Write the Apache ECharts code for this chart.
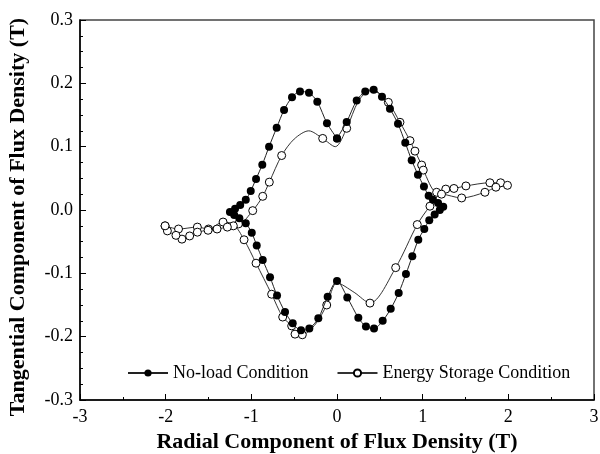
<!DOCTYPE html>
<html><head><meta charset="utf-8">
<script src="https://cdn.jsdelivr.net/npm/echarts@6/dist/echarts.min.js"></script>
<style>html,body{margin:0;padding:0;background:#fff}#c{width:600px;height:454px}</style>
</head><body><div id="c"></div>
<script>
var xTicks = [-3, -2, -1, 0, 1, 2, 3];
var yTicks = [-0.3, -0.2, -0.1, 0.0, 0.1, 0.2, 0.3];
var seriesNames = ['No-load Condition', 'Energy Storage Condition'];

// No-load condition (closed loop)
var noLoadX = [0.0, 0.113, 0.230, 0.330, 0.428, 0.525, 0.618, 0.712, 0.797, 0.872, 0.945, 1.015, 1.070, 1.12, 1.18, 1.24, 1.20, 1.14, 1.077, 1.019, 0.949, 0.879, 0.805, 0.72, 0.627, 0.533, 0.432, 0.338, 0.249, 0.120, 0.0, -0.109, -0.218, -0.323, -0.420, -0.517, -0.607, -0.700, -0.782, -0.867, -0.937, -0.995, -1.065, -1.14, -1.20, -1.25, -1.19, -1.13, -1.065, -1.007, -0.945, -0.872, -0.793, -0.704, -0.618, -0.525, -0.432, -0.327, -0.230, -0.117, 0.0];
var noLoadY = [0.113, 0.139, 0.173, 0.187, 0.190, 0.179, 0.160, 0.136, 0.106, 0.0785, 0.0558, 0.037, 0.0226, 0.016, 0.011, 0.005, 0.000, -0.007, -0.016, -0.030, -0.047, -0.073, -0.101, -0.131, -0.156, -0.175, -0.187, -0.184, -0.170, -0.138, -0.112, -0.137, -0.171, -0.187, -0.190, -0.179, -0.161, -0.135, -0.106, -0.079, -0.056, -0.036, -0.021, -0.013, -0.008, -0.003, 0.002, 0.008, 0.016, 0.030, 0.049, 0.0716, 0.100, 0.130, 0.158, 0.178, 0.187, 0.185, 0.171, 0.137, 0.113];

// Energy storage condition (loop with tails); esMarked: 1 = point drawn with a circle
var esX = [-2.007, -1.85, -1.63, -1.50, -1.33, -1.15, -0.984, -0.867, -0.790, -0.646, -0.50, -0.33, -0.167, -0.02, 0.113, 0.25, 0.38, 0.48, 0.599, 0.735, 0.852, 0.910, 0.988, 1.007, 1.163, 1.27, 1.365, 1.505, 1.785, 1.91, 1.99, 1.855, 1.727, 1.455, 1.22, 1.085, 0.937, 0.685, 0.385, 0.2, 0.0, -0.120, -0.25, -0.405, -0.49, -0.529, -0.634, -0.763, -0.945, -1.085, -1.21, -1.28, -1.40, -1.505, -1.63, -1.72, -1.81, -1.88, -1.98, -2.007];
var esY = [-0.025, -0.030, -0.027, -0.030, -0.019, -0.022, -0.001, 0.0216, 0.044, 0.086, 0.112, 0.125, 0.113, 0.100, 0.129, 0.172, 0.188, 0.185, 0.170, 0.1385, 0.1095, 0.093, 0.071, 0.063, 0.028, 0.033, 0.034, 0.038, 0.043, 0.043, 0.039, 0.036, 0.028, 0.019, 0.025, 0.006, -0.023, -0.091, -0.147, -0.13, -0.115, -0.150, -0.18, -0.197, -0.196, -0.183, -0.169, -0.133, -0.084, -0.047, -0.025, -0.027, -0.030, -0.032, -0.035, -0.041, -0.046, -0.040, -0.033, -0.025];
var esMarked = [1, 1, 1, 1, 1, 1, 1, 1, 1, 1, 0, 0, 1, 0, 1, 0, 0, 0, 1, 1, 1, 1, 1, 1, 1, 1, 1, 1, 1, 1, 1, 1, 1, 1, 1, 1, 1, 1, 1, 0, 0, 1, 0, 1, 1, 1, 1, 1, 1, 1, 1, 1, 1, 1, 1, 1, 1, 1, 1, 1];

var FONT = '"Liberation Serif", "Times New Roman", serif';
var noLoadData = noLoadX.map(function (x, i) { return [x, noLoadY[i]]; });
var esData = esX.map(function (x, i) {
  return esMarked[i] ? [x, esY[i]] : { value: [x, esY[i]], symbol: 'none' };
});

var chart = echarts.init(document.getElementById('c'), null, { renderer: 'canvas' });
chart.setOption({
  animation: false,
  backgroundColor: '#fff',
  grid: { left: 80, right: 6, top: 20, bottom: 54, show: true, borderColor: '#444', borderWidth: 1.5,
    containLabel: false, outerBoundsMode: 'none' },
  legend: {
    left: 122, top: 359, itemWidth: 40, itemHeight: 9, itemGap: 28,
    textStyle: { fontFamily: FONT, fontSize: 18, color: '#000' },
    data: seriesNames
  },
  xAxis: {
    type: 'value', min: xTicks[0], max: xTicks[xTicks.length - 1], interval: 1,
    name: 'Radial Component of Flux Density (T)', nameLocation: 'middle', nameGap: 30,
    nameTextStyle: { fontFamily: FONT, fontSize: 22, fontWeight: 'bold', color: '#000' },
    axisLine: { onZero: false, lineStyle: { color: '#000', width: 1.5 } },
    axisTick: { inside: true, length: 6, lineStyle: { color: '#000', width: 1 } },
    minorTick: { show: true, splitNumber: 2, length: 3, lineStyle: { color: '#000', width: 1 } },
    splitLine: { show: false },
    axisLabel: { fontFamily: FONT, fontSize: 18, color: '#000', margin: 8 }
  },
  yAxis: {
    type: 'value', min: yTicks[0], max: yTicks[yTicks.length - 1], interval: 0.1,
    name: 'Tangential Component of Flux Density (T)', nameLocation: 'middle', nameGap: 51,
    nameTextStyle: { fontFamily: FONT, fontSize: 22, fontWeight: 'bold', color: '#000', padding: [0, 14, 0, 0] },
    axisLine: { onZero: false, lineStyle: { color: '#000', width: 1.5 } },
    axisTick: { inside: true, length: 6, lineStyle: { color: '#000', width: 1 } },
    minorTick: { show: true, splitNumber: 4, length: 3, lineStyle: { color: '#000', width: 1 } },
    splitLine: { show: false },
    axisLabel: { fontFamily: FONT, fontSize: 18, color: '#000', margin: 7,
      formatter: function (v) { return (Math.abs(v) < 1e-9 ? 0 : v).toFixed(1); } }
  },
  series: [
    {
      name: seriesNames[1], type: 'line', data: esData, smooth: 0.3,
      symbol: 'circle', symbolSize: 8, showAllSymbol: true,
      lineStyle: { color: '#333', width: 1 },
      itemStyle: { color: '#fff', borderColor: '#000', borderWidth: 1 }, z: 2
    },
    {
      name: seriesNames[0], type: 'line', data: noLoadData, smooth: 0.3,
      symbol: 'circle', symbolSize: 8, showAllSymbol: true,
      lineStyle: { color: '#222', width: 1 },
      itemStyle: { color: '#000', borderColor: '#000', borderWidth: 0 }, z: 3
    }
  ]
});
</script></body></html>
